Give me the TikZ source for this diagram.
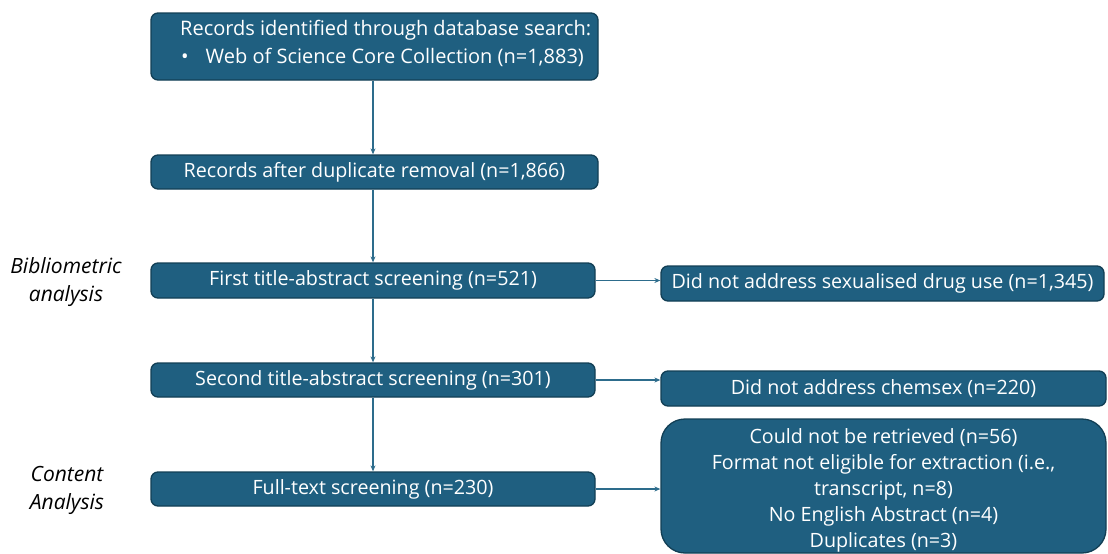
\documentclass[tikz,border=0pt]{standalone}
\usepackage{fontspec}
\setmainfont{Open Sans}
\usetikzlibrary{arrows.meta}
\definecolor{boxfill}{HTML}{1F5F80}
\definecolor{boxdraw}{HTML}{123F55}
\definecolor{arrcol}{HTML}{2D6C8C}
\tikzset{
  box/.style={draw=boxdraw, line width=1.3pt, fill=boxfill, rounded corners=7pt, text=white, font=\fontsize{19.7}{22}\selectfont, inner sep=0pt, align=center},
  arr/.style={draw=arrcol, line width=1.1pt, -{Stealth[length=6pt,width=5pt]}},
  side/.style={font=\fontsize{21}{28}\selectfont\itshape, align=center, text=black}
}
\begin{document}
\begin{tikzpicture}[x=1pt,y=-1pt]
\useasboundingbox (0,0) rectangle (1108,554);
\node[box, minimum width=447, minimum height=67] (b1) at (374.5,46.5) {};
\node[anchor=west, text=white, font=\fontsize{20}{28}\selectfont, align=left, inner sep=0pt] (t1) at (180,43) {Records identified through database search:\\\hspace*{1pt}\textbullet\hspace{17pt}Web of Science Core Collection (n=1,883)};
\node[box, minimum width=447, minimum height=34] (b2) at (374.5,172) {Records after duplicate removal (n=1,866)};
\node[box, minimum width=444, minimum height=35] (b3) at (373,280.5) {First title-abstract screening (n=521)};
\node[box, minimum width=444, minimum height=34] (b4) at (373,380) {Second title-abstract screening (n=301)};
\node[box, minimum width=444, minimum height=34] (b5) at (373,489) {Full-text screening (n=230)};
\node[box, minimum width=443, minimum height=35] (ra) at (882.5,283.5) {Did not address sexualised drug use (n=1,345)};
\node[box, minimum width=445, minimum height=35] (rb) at (883.5,388.5) {Did not address chemsex (n=220)};
\node[box, rounded corners=24pt, minimum width=445, minimum height=134] (rc) at (883.5,486) {};
\node[text=white, font=\fontsize{19.7}{26}\selectfont, align=center, inner sep=0pt] (tc) at (883.5,490) {Could not be retrieved (n=56)\\Format not eligible for extraction (i.e.,\\transcript, n=8)\\No English Abstract (n=4)\\Duplicates (n=3)};
\node[side] (s1) at (66,282) {Bibliometric\\analysis};
\node[side] (s2) at (67,490) {Content\\Analysis};
\draw[arr] (b1.south -| b3.center) -- (b2.north -| b3.center);
\draw[arr] (b2.south -| b3.center) -- (b3.north);
\draw[arr] (b3.south) -- (b4.north);
\draw[arr] (b4.south) -- (b5.north);
\draw[arr] (b3.east) -- (ra.west |- b3.east);
\draw[arr] (b4.east) -- (rb.west |- b4.east);
\draw[arr] (b5.east) -- (rc.west |- b5.east);
\end{tikzpicture}
\end{document}
